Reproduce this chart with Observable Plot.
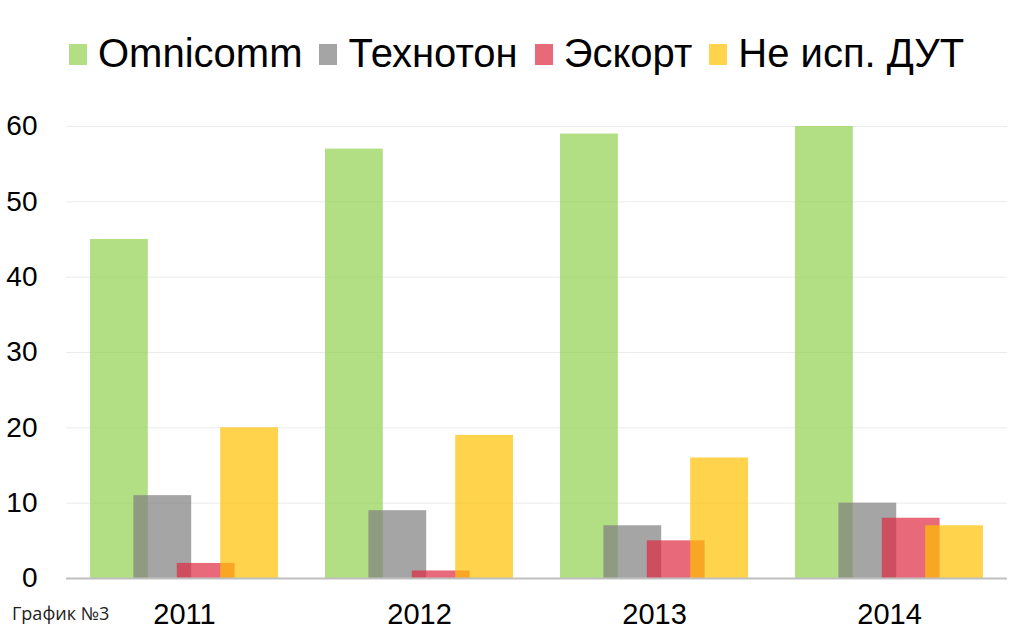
<!DOCTYPE html>
<html>
<head>
<meta charset="utf-8">
<script src="https://cdn.jsdelivr.net/npm/d3@7"></script>
<script src="https://cdn.jsdelivr.net/npm/@observablehq/plot@0.6"></script>
<style>
  body { margin: 0; background: #fff; font-family: "Liberation Sans", Arial, sans-serif; }
  #wrap { position: relative; width: 1024px; height: 639px; }
  #legend { height: 100px; display: flex; align-items: flex-start; padding-left: 69px; padding-top: 30px; box-sizing: border-box; }
  .item { display: flex; align-items: center; margin-right: 17px; font-size: 40px; color: #000; line-height: 46px; }
  .sw { width: 18px; height: 21px; margin-right: 11px; margin-top: 2px; }
  #caption { position: absolute; left: 12px; top: 601px; font-family: "Open Sans", sans-serif; font-size: 18px; color: #222; }
</style>
</head>
<body>
<div id="wrap">
  <div id="legend"></div>
  <div id="chart"></div>
  <div id="caption">График №3</div>
</div>
<script>
const years = ["2011", "2012", "2013", "2014"]
const series = ["Omnicomm", "Технотон", "Эскорт", "Не исп. ДУТ"]
const omnicomm = [45, 57, 59, 60]
const tehnoton = [11, 9, 7, 10]
const eskort = [2, 1, 5, 8]
const bezDut = [20, 19, 16, 7]
const colors = ["#92d050", "#7f7f7f", "#de2941", "#ffc000"]
const yTicks = [0, 10, 20, 30, 40, 50, 60]

const values = [omnicomm, tehnoton, eskort, bezDut]
const rows = []
series.forEach((s, i) => years.forEach((y, j) => rows.push({series: s, year: y, value: values[i][j]})))

// legend
const legend = d3.select('#legend')
series.forEach((s, i) => {
  const it = legend.append('div').attr('class', 'item')
  it.append('div').attr('class', 'sw').style('background', colors[i]).style('opacity', 0.7)
  it.append('span').text(s)
})

const width = 1024, marginLeft = 66, marginRight = 17
// ширина группы и сдвиг столбцов внутри (столбцы перекрываются)
const band = (width - marginLeft - marginRight) / years.length * 0.8
const barW = 58
const stride = (band - barW) / (series.length - 1)

let chart = Plot.plot({
  width,
  height: 539,
  marginLeft,
  marginRight,
  marginTop: 26,
  marginBottom: 61,
  style: {fontFamily: '"Liberation Sans", Arial, sans-serif', color: '#000', background: 'transparent'},
  x: {domain: years, paddingInner: 0.2, paddingOuter: 0.1, label: null, tickSize: 0, tickPadding: 25, fontSize: 28},
  y: {domain: [0, 60], ticks: yTicks, label: null, tickSize: 0, tickPadding: 29},
  marks: [
    Plot.gridY(yTicks.slice(1), {stroke: '#ebebeb', strokeOpacity: 1, strokeWidth: 1}),
    ...series.map((s, i) => Plot.barY(rows.filter(d => d.series === s), {
      x: 'year',
      y: 'value',
      fill: colors[i],
      fillOpacity: 0.7,
      insetLeft: i * stride,
      insetRight: band - barW - i * stride
    })),
    Plot.ruleY([0], {stroke: '#bfbfbf', strokeWidth: 2}),
    Plot.axisX({tickSize: 0, tickPadding: 25, fontSize: 29, label: null}),
    Plot.axisY(yTicks, {tickSize: 0, tickPadding: 29, fontSize: 28, label: null})
  ]
})

d3.select('#chart').append(() => chart)
</script>
</body>
</html>
